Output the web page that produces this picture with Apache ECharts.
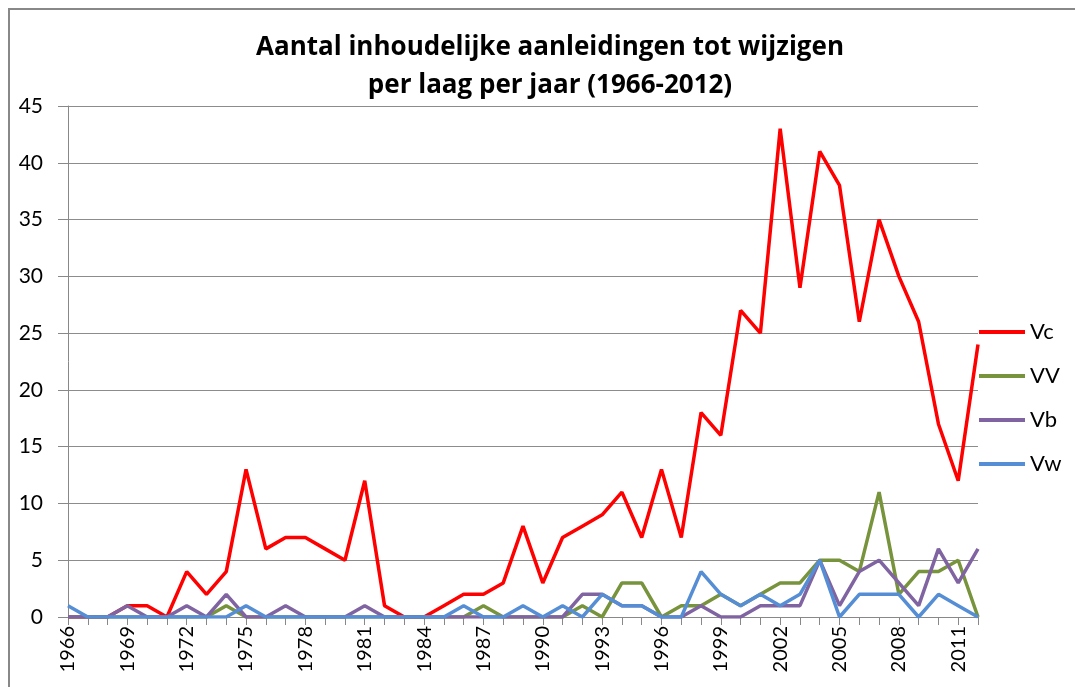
<!DOCTYPE html>
<html><head><meta charset="utf-8">
<script src="https://cdn.jsdelivr.net/npm/echarts@6/dist/echarts.min.js"></script>
<style>html,body{margin:0;padding:0;background:#fff}#c{width:1075px;height:687px}</style>
</head><body><div id="c"></div>
<script>
const years = [];
for (let y = 1966; y <= 2012; y++) years.push(String(y));
const titleText = "Aantal inhoudelijke aanleidingen tot wijzigen\nper laag per jaar (1966-2012)";
const seriesNames = ["Vc", "VV", "Vb", "Vw"];
const vc = [0,0,0,1,1,0,4,2,4,13,6,7,7,6,5,12,1,0,0,1,2,2,3,8,3,7,8,9,11,7,13,7,18,16,27,25,43,29,41,38,26,35,30,26,17,12,24];
const vv = [0,0,0,0,0,0,0,0,1,0,0,0,0,0,0,0,0,0,0,0,0,1,0,0,0,0,1,0,3,3,0,1,1,2,1,2,3,3,5,5,4,11,2,4,4,5,0];
const vb = [0,0,0,1,0,0,1,0,2,0,0,1,0,0,0,1,0,0,0,0,0,0,0,0,0,0,2,2,1,1,0,0,1,0,0,1,1,1,5,1,4,5,3,1,6,3,6];
const vw = [1,0,0,0,0,0,0,0,0,1,0,0,0,0,0,0,0,0,0,0,1,0,0,1,0,1,0,2,1,1,0,0,4,2,1,2,1,2,5,0,2,2,2,0,2,1,0];
const colors = ["#FF0000", "#77933C", "#8064A2", "#558ED5"];
const dataSets = [vc, vv, vb, vw];
const FONT = 'Lato';

const chart = echarts.init(document.getElementById('c'), null, {renderer: 'canvas'});
chart.setOption({
  animation: false,
  backgroundColor: '#fff',
  graphic: [{
    type: 'rect', shape: {x: 9, y: 9, width: 1200, height: 800},
    style: {fill: 'none', stroke: '#888', lineWidth: 2}, silent: true, z: -1
  }],
  title: {
    text: titleText, left: 545, top: 24, textAlign: 'center',
    textStyle: {fontFamily: 'Open Sans', fontWeight: 'bold', fontSize: 26, lineHeight: 38, color: '#000'}
  },
  legend: {
    orient: 'vertical', left: 974, top: 316, itemGap: 22, itemWidth: 46, itemHeight: 4,
    icon: 'rect',
    textStyle: {fontFamily: FONT, fontSize: 22, color: '#000', padding: [0,0,0,0]},
    data: seriesNames
  },
  grid: {left: 68, right: 97, top: 106, bottom: 70, containLabel: false},
  xAxis: {
    type: 'category', data: years, boundaryGap: false,
    axisLine: {lineStyle: {color: '#888', width: 1}},
    axisTick: {interval: 0, length: 8, lineStyle: {color: '#888'}},
    axisLabel: {interval: 2, rotate: 90, fontFamily: FONT, fontSize: 20, color: '#000', margin: 9}
  },
  yAxis: {
    type: 'value', min: 0, max: 45, interval: 5,
    axisLine: {show: true, lineStyle: {color: '#888'}},
    axisTick: {show: true, inside: false, length: 10, lineStyle: {color: '#888'}},
    splitLine: {lineStyle: {color: '#8c8c8c', width: 1}},
    axisLabel: {fontFamily: FONT, fontSize: 21, color: '#000', margin: 25}
  },
  series: seriesNames.map((n, i) => ({
    name: n, type: 'line', data: dataSets[i], showSymbol: false, symbol: 'none',
    color: colors[i], lineStyle: {width: 3.5, color: colors[i]}
  }))
});
</script></body></html>
